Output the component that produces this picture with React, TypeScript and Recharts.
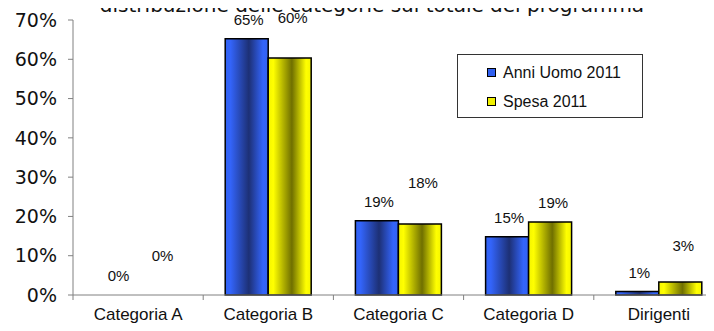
import { BarChart, Bar, XAxis, YAxis, LabelList, Legend, Rectangle } from 'recharts'

// percent share of each category on the programme total
const categories = ['Categoria A', 'Categoria B', 'Categoria C', 'Categoria D', 'Dirigenti']
const anniUomo2011 = [0, 65.2, 18.9, 14.8, 0.9]
const spesa2011 = [0, 60.3, 18.1, 18.6, 3.3]
const yTicks = [0, 10, 20, 30, 40, 50, 60, 70]

// extra lift of the hand-moved Excel labels, per category
const anniLift = [0, 0, 0, 0, 0]
const spesaLift = [20, 22, 22, 0, 18]

const chartData = categories.map((name, i) => ({
  name,
  anni: anniUomo2011[i],
  spesa: spesa2011[i],
}))

const W = 740
const H = 331
const MARGIN = { top: 20, right: 16, bottom: 0, left: 0 }
const Y_AXIS_W = 73
const BAND = (W - MARGIN.left - MARGIN.right - Y_AXIS_W) / categories.length
const AXIS_GREY = '#808080'

const series = [
  { key: 'anni', name: 'Anni Uomo 2011', fill: '#3060f0', lift: anniLift },
  { key: 'spesa', name: 'Spesa 2011', fill: '#f0f000', lift: spesaLift },
]

// tick y arrives 8px below the axis line (default tick size + margin)
function CategoryTick(props: any) {
  const { x, y, payload } = props
  return (
    <g>
      <line x1={x - BAND / 2} x2={x - BAND / 2} y1={y - 8} y2={y - 3} stroke={AXIS_GREY} />
      <text
        x={x}
        y={y + 17}
        textAnchor="middle"
        fontFamily="Liberation Sans, Arial, sans-serif"
        fontSize={17}
        fill="#111"
      >
        {payload.value}
      </text>
    </g>
  )
}

function makeLabel(lift: number[], dx: number) {
  return (props: any) => {
    const { x, y, width, value, index } = props
    return (
      <text
        x={x + width / 2 + dx}
        y={y - 13.5 - lift[index]}
        textAnchor="middle"
        fontFamily="Liberation Sans, Arial, sans-serif"
        fontSize={15}
        fill="#111"
      >
        {Math.round(value)}%
      </text>
    )
  }
}

// zero bars keep a hair of height so their label is kept, but draw nothing
const BarShape = (props: any) => (props.height < 1 ? <g /> : <Rectangle {...props} />)

function renderLegend() {
  return (
    <div
      style={{
        width: 186,
        height: 64,
        boxSizing: 'border-box',
        border: '1px solid #333',
        background: '#fff',
        fontFamily: 'Liberation Sans, Arial, sans-serif',
        fontSize: 16,
        color: '#111',
        paddingTop: 3,
      }}
    >
      {series.map((s) => (
        <div key={s.key} style={{ display: 'flex', alignItems: 'center', height: 29, paddingLeft: 29 }}>
          <span
            style={{
              display: 'inline-block',
              width: 7,
              height: 7,
              border: '1px solid #000',
              background: s.fill,
              marginRight: 7,
            }}
          />
          <span>{s.name}</span>
        </div>
      ))}
    </div>
  )
}

export default function App() {
  return (
    <div
      style={{
        margin: -8,
        width: 714,
        height: 331,
        overflow: 'hidden',
        position: 'relative',
        background: '#fff',
      }}
    >
      <BarChart width={W} height={H} data={chartData} margin={MARGIN} barGap={0} barCategoryGap={22}>
        <defs>
          <linearGradient id="gradBlue" x1="0" y1="0" x2="1" y2="0">
            <stop offset="0%" stopColor="#3262f2" />
            <stop offset="12%" stopColor="#3364fa" />
            <stop offset="55%" stopColor="#1d3075" />
            <stop offset="88%" stopColor="#3364fa" />
            <stop offset="100%" stopColor="#3262f2" />
          </linearGradient>
          <linearGradient id="gradYellow" x1="0" y1="0" x2="1" y2="0">
            <stop offset="0%" stopColor="#f5f500" />
            <stop offset="12%" stopColor="#ffff00" />
            <stop offset="55%" stopColor="#6f6f00" />
            <stop offset="88%" stopColor="#ffff00" />
            <stop offset="100%" stopColor="#f5f500" />
          </linearGradient>
        </defs>
        <text
          x={372}
          y={12}
          textAnchor="middle"
          fontFamily="DejaVu Sans, Verdana, sans-serif"
          fontSize={20}
          fill="#111"
        >
          distribuzione delle categorie sul totale del programma
        </text>
        <XAxis
          dataKey="name"
          height={36}
          tickLine={false}
          axisLine={{ stroke: AXIS_GREY }}
          tick={<CategoryTick />}
          interval={0}
        />
        <YAxis
          width={Y_AXIS_W}
          domain={[0, 70]}
          ticks={yTicks}
          tickFormatter={(v: number) => `${v}%`}
          tickSize={5}
          tickMargin={11}
          tickLine={{ stroke: AXIS_GREY }}
          axisLine={{ stroke: AXIS_GREY }}
          tick={{ fill: '#111', fontSize: 19, fontFamily: 'DejaVu Sans, Verdana, sans-serif' }}
        />
        <Legend
          layout="vertical"
          align="center"
          verticalAlign="middle"
          width={186}
          wrapperStyle={{ left: 457, top: 54 }}
          content={renderLegend}
        />
        <Bar
          dataKey="anni"
          name="Anni Uomo 2011"
          fill="url(#gradBlue)"
          stroke="#000"
          strokeWidth={1.5}
          minPointSize={0.5}
          shape={BarShape}
          isAnimationActive={false}
        >
          <LabelList dataKey="anni" content={makeLabel(anniLift, 2)} />
        </Bar>
        <Bar
          dataKey="spesa"
          name="Spesa 2011"
          fill="url(#gradYellow)"
          stroke="#000"
          strokeWidth={1.5}
          minPointSize={0.5}
          shape={BarShape}
          isAnimationActive={false}
        >
          <LabelList dataKey="spesa" content={makeLabel(spesaLift, 3)} />
        </Bar>
      </BarChart>
    </div>
  )
}
